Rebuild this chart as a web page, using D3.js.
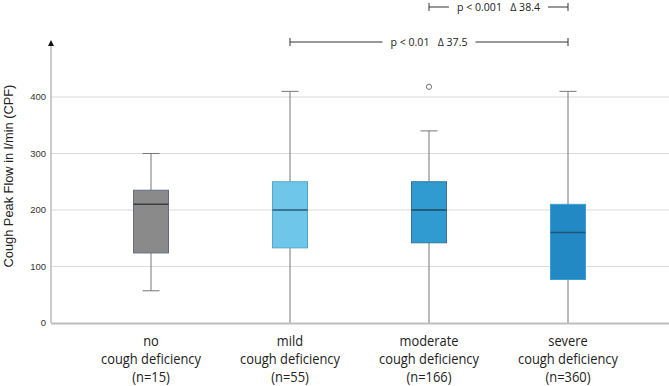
<!DOCTYPE html>
<html><head><meta charset="utf-8">
<script src="https://cdn.jsdelivr.net/npm/d3@7"></script>
<style>body{margin:0;background:#fff}svg{display:block}</style>
</head><body><svg id="c" width="669" height="386"></svg>
<script>
const categories = ["no", "mild", "moderate", "severe"];
const groupN = [15, 55, 166, 360];
const whiskerLow = [57, 0, 0, 0];
const q1 = [124, 133, 142, 77];
const median = [210, 200, 200, 160];
const q3 = [235, 250, 250, 210];
const whiskerHigh = [300, 410, 340, 410];
const outliers = [[], [], [418], []];
const yTicks = [0, 100, 200, 300, 400];
const comparisons = [
  {from: "moderate", to: "severe", label: "p < 0.001   Δ 38.4"},
  {from: "mild", to: "severe", label: "p < 0.01   Δ 37.5"}
];
const fills = ["#8a8a8a", "#6ec6ea", "#2f9bd0", "#2389c5"];
const strokes = ["#676c86", "#58a6c8", "#37739a", "#3b9fd6"];
const medStrokes = ["#3c3c3c", "#2e5870", "#21485e", "#1d5678"];

const svg = d3.select("#c");
const x = d3.scaleBand().domain(categories).range([81.5, 637.5]);
const y = d3.scaleLinear().domain([0, 400]).range([323, 97]);
const bw = 35, cw = 17;
const cx = c => x(c) + x.bandwidth() / 2;

// gridlines
svg.append("g").selectAll("line").data(yTicks.filter(d => d > 0)).join("line")
  .attr("x1", 51).attr("x2", 669).attr("y1", d => y(d)).attr("y2", d => y(d))
  .attr("stroke", "#dadada").attr("stroke-width", 1.2);

// y tick labels
svg.append("g").selectAll("text").data(yTicks).join("text")
  .attr("x", 46).attr("y", d => y(d)).attr("dy", "0.35em").attr("text-anchor", "end")
  .attr("font-family", "Liberation Sans, Arial, sans-serif").attr("font-size", 9.5)
  .attr("fill", "#333").text(d => d);

// y axis line + arrow
svg.append("line").attr("x1", 51).attr("x2", 51).attr("y1", 323).attr("y2", 44)
  .attr("stroke", "#999").attr("stroke-width", 1);
svg.append("path").attr("d", "M51,40 L48,46 L54,46 Z").attr("fill", "#111");

// y label
svg.append("text").attr("transform", "translate(13,176) rotate(-90)")
  .attr("text-anchor", "middle").attr("font-family", "Liberation Sans, Arial, sans-serif")
  .attr("font-size", 12.8).attr("fill", "#222").text("Cough Peak Flow in l/min (CPF)");

// boxes
const g = svg.append("g");
categories.forEach((c, i) => {
  const X = cx(c);
  g.append("line").attr("x1", X).attr("x2", X).attr("y1", y(whiskerHigh[i])).attr("y2", y(q3[i]))
    .attr("stroke", "#777").attr("stroke-width", 1);
  g.append("line").attr("x1", X).attr("x2", X).attr("y1", y(q1[i])).attr("y2", y(whiskerLow[i]))
    .attr("stroke", "#777").attr("stroke-width", 1);
  g.append("line").attr("x1", X - cw / 2).attr("x2", X + cw / 2).attr("y1", y(whiskerHigh[i])).attr("y2", y(whiskerHigh[i]))
    .attr("stroke", "#777").attr("stroke-width", 1);
  if (whiskerLow[i] > 0)
    g.append("line").attr("x1", X - cw / 2).attr("x2", X + cw / 2).attr("y1", y(whiskerLow[i])).attr("y2", y(whiskerLow[i]))
      .attr("stroke", "#777").attr("stroke-width", 1);
  g.append("rect").attr("x", X - bw / 2).attr("width", bw).attr("y", y(q3[i])).attr("height", y(q1[i]) - y(q3[i]))
    .attr("fill", fills[i]).attr("stroke", strokes[i]).attr("stroke-width", 1);
  g.append("line").attr("x1", X - bw / 2).attr("x2", X + bw / 2).attr("y1", y(median[i])).attr("y2", y(median[i]))
    .attr("stroke", medStrokes[i]).attr("stroke-width", 1.5);
  outliers[i].forEach(o => {
    g.append("circle").attr("cx", X).attr("cy", y(o)).attr("r", 2.6)
      .attr("fill", "none").attr("stroke", "#666").attr("stroke-width", 0.9);
  });
});

// x axis line
svg.append("line").attr("x1", 51).attr("x2", 669).attr("y1", 323.5).attr("y2", 323.5)
  .attr("stroke", "#bdbdbd").attr("stroke-width", 2);

// x labels (narrow, Calibri-like: horizontally condensed)
const labelFont = "Open Sans, sans-serif";
const xl = svg.append("g").attr("font-family", labelFont).attr("font-size", 14).attr("fill", "#222");
// measure width of the long line for condensing
const probe = xl.append("text").text("cough deficiency");
const kx = 100 / probe.node().getComputedTextLength();
probe.remove();
categories.forEach((c, i) => {
  const t = xl.append("text").attr("transform", `translate(${cx(c)},0) scale(${kx},1)`).attr("text-anchor", "middle");
  [c, "cough deficiency", "(n=" + groupN[i] + ")"].forEach((s, k) => {
    t.append("tspan").attr("x", 0).attr("y", 346 + k * 18).text(s);
  });
});

// comparison brackets
const bY = [7, 42];
comparisons.forEach((cmp, k) => {
  const x1 = cx(cmp.from), x2 = cx(cmp.to), yy = bY[k];
  const mid = (x1 + x2) / 2;
  const bg = svg.append("g");
  const txt = bg.append("text").attr("transform", `translate(${mid},${yy}) scale(${kx},1)`)
    .attr("dy", "0.35em").attr("text-anchor", "middle")
    .attr("font-family", labelFont).attr("font-size", 11.5).attr("fill", "#222")
    .style("white-space", "pre").text(cmp.label);
  const w = txt.node().getComputedTextLength() * kx;
  const gap = 8;
  bg.append("line").attr("x1", x1).attr("x2", mid - w / 2 - gap).attr("y1", yy).attr("y2", yy).attr("stroke", "#333");
  bg.append("line").attr("x1", mid + w / 2 + gap).attr("x2", x2).attr("y1", yy).attr("y2", yy).attr("stroke", "#333");
  bg.append("line").attr("x1", x1).attr("x2", x1).attr("y1", yy - 4).attr("y2", yy + 4).attr("stroke", "#333");
  bg.append("line").attr("x1", x2).attr("x2", x2).attr("y1", yy - 4).attr("y2", yy + 4).attr("stroke", "#333");
});
</script></body></html>
